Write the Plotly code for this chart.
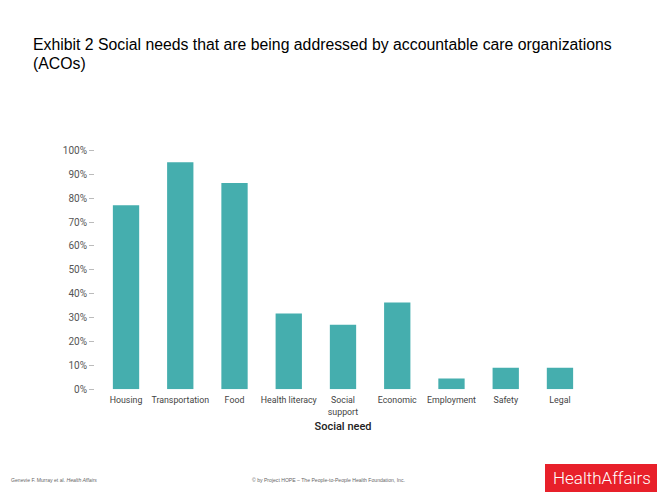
import plotly.graph_objects as go

categories = ["Housing", "Transportation", "Food", "Health literacy", "Social<br>support",
              "Economic", "Employment", "Safety", "Legal"]
values = [77, 95, 86.3, 31.7, 27, 36.3, 4.5, 9, 9]
y_ticks = [0, 10, 20, 30, 40, 50, 60, 70, 80, 90, 100]
y_tick_labels = [f"{v}%" for v in y_ticks]
title_lines = ["Exhibit 2 Social needs that are being addressed by accountable care organizations",
               "(ACOs)"]

W, H = 660, 492
fig = go.Figure()
fig.add_trace(go.Bar(x=categories, y=values, marker_color="#45aeae", width=0.485,
                     marker_line_width=0, hoverinfo="skip"))

font_fam = "Roboto, Liberation Sans, sans-serif"
fig.update_layout(
    width=W, height=H, margin=dict(l=0, r=0, t=0, b=0, pad=0, autoexpand=False),
    paper_bgcolor="white", plot_bgcolor="white", showlegend=False,
    xaxis=dict(domain=[98.9 / W, 587.1 / W], showline=False, showgrid=False, ticks="",
               automargin=False, ticklabelstandoff=4,
               tickfont=dict(family=font_fam, size=8.8, color="#444"),
               title=dict(text="Social need", font=dict(family=font_fam, size=11, color="#222",
                                                        weight=500),
                          standoff=6)),
    yaxis=dict(domain=[(H - 389.3) / H, (H - 150.3) / H], range=[0, 100],
               anchor="free", position=94 / W, automargin=False,
               tickvals=y_ticks, ticktext=y_tick_labels, ticks="outside", ticklen=5,
               tickcolor="#bbb", tickwidth=1, showgrid=False, showline=False, zeroline=False,
               tickfont=dict(family=font_fam, size=10, color="#555")),
)

for line, yc in zip(title_lines, [45, 63]):
    fig.add_annotation(text=line, xref="paper", yref="paper", x=31 / W, y=1 - yc / H,
                       xanchor="left", yanchor="middle", align="left", showarrow=False,
                       font=dict(family="Liberation Sans, Arial", size=15.8, color="#000"))
fig.add_annotation(text="Genevie F. Murray et al. <i>Health Affairs</i>",
                   xref="paper", yref="paper", x=9 / W, y=1 - 480 / H, xanchor="left", yanchor="middle",
                   showarrow=False, font=dict(family="Liberation Sans, Arial", size=5.1, color="#666"))
fig.add_annotation(text="© by Project HOPE – The People-to-People Health Foundation, Inc.",
                   xref="paper", yref="paper", x=328 / W, y=1 - 480 / H, xanchor="center", yanchor="middle",
                   showarrow=False, font=dict(family="Liberation Sans, Arial", size=5.1, color="#666"))
fig.add_shape(type="rect", xref="paper", yref="paper", x0=545 / W, x1=657 / W,
              y0=0, y1=1 - 464 / H, fillcolor="#e8202a", line_width=0)
fig.add_annotation(text="HealthAffairs", xref="paper", yref="paper", x=602 / W, y=1 - 478 / H,
                   xanchor="center", yanchor="middle", showarrow=False,
                   font=dict(family="Roboto, Liberation Sans", size=17, color="white", weight=300))

fig.write_html("out.html", config={"displayModeBar": False},
               post_script="document.body.style.margin='0';")
